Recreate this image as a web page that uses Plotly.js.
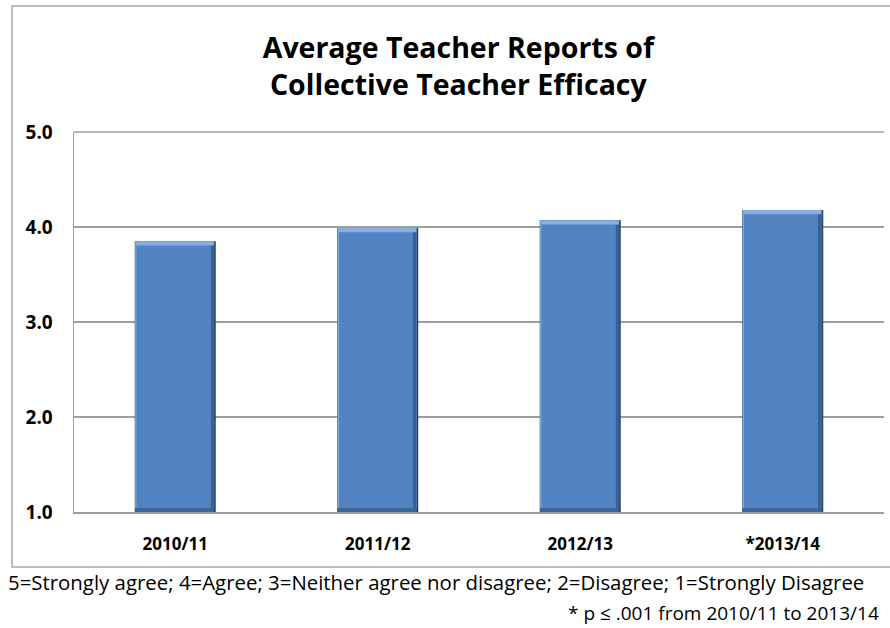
<!DOCTYPE html>
<html>
<head>
<meta charset="utf-8">
<script src="https://cdn.plot.ly/plotly-3.0.1.min.js"></script>
<style>
html,body{margin:0;padding:0;background:#fff;}
#chart{width:890px;height:628px;}
</style>
</head>
<body>
<div id="chart"></div>
<script>
const years = ["2010/11", "2011/12", "2012/13", "*2013/14"];
const efficacy = [3.85, 3.99, 4.07, 4.18];
const yTicks = [1, 2, 3, 4, 5];
const yTickLabels = ["1.0", "2.0", "3.0", "4.0", "5.0"];
const chartTitle = "Average Teacher Reports of<br>Collective Teacher Efficacy";
const scaleNote = "5=Strongly agree; 4=Agree; 3=Neither agree nor disagree; 2=Disagree; 1=Strongly Disagree";
const sigNote = "* p \u2264 .001 from 2010/11 to 2013/14";

const FONT = "'Open Sans', sans-serif";
const BASE = 1;
const heights = efficacy.map(v => v - BASE);
const RIM = 0.045;   // bevel depth in value units
const BOT = 0.04;

function layer(yv, base, width, offset, color, hover) {
  const t = {
    type: "bar", x: years, y: yv, base: base,
    width: width, offset: offset,
    marker: { color: color, line: { width: 0 } },
    showlegend: false
  };
  if (hover) {
    t.customdata = efficacy;
    t.hovertemplate = "%{x}: %{customdata}<extra></extra>";
  } else {
    t.hoverinfo = "skip";
  }
  return t;
}

// Bevelled bar look built from stacked overlays of the same data
const traces = [
  layer(heights, BASE, 0.4, -0.2, "#22406A", false),                                   // dark frame
  layer(heights.map(h => h - BOT), BASE + BOT, 0.39, -0.198, "#86AEE0", false),        // light rim (top/left)
  layer(heights.map(() => BOT), BASE, 0.39, -0.198, "#3C6598", false),                 // bottom shade
  layer(heights.map(h => h - RIM - BOT), BASE + BOT, 0.366, -0.192, "#5283C3", true),  // face
  layer(heights.map(h => h - RIM - BOT), BASE + BOT, 0.018, 0.174, "#3A6194", false)   // right shade
];

const layout = {
  width: 890,
  height: 628,
  margin: { l: 74, r: 6, t: 132, b: 116 },
  paper_bgcolor: "#ffffff",
  plot_bgcolor: "#ffffff",
  barmode: "overlay",
  title: {
    text: chartTitle,
    font: { family: FONT, size: 28.5, color: "#000000", weight: "bold" },
    x: 0.515, xanchor: "center",
    y: 1 - 58 / 628, yanchor: "middle",
    yref: "container"
  },
  xaxis: {
    type: "category",
    showgrid: false,
    showline: true,
    linecolor: "#9e9e9e",
    linewidth: 1.5,
    ticks: "",
    ticklabelstandoff: 16,
    tickfont: { family: FONT, size: 17, color: "#000000", weight: "bold" },
    fixedrange: true
  },
  yaxis: {
    range: [1, 5],
    tickvals: yTicks,
    ticktext: yTickLabels,
    showgrid: true,
    gridcolor: "#9e9e9e",
    gridwidth: 1.5,
    showline: true,
    linecolor: "#9e9e9e",
    linewidth: 1.5,
    zeroline: false,
    ticks: "",
    ticklabelstandoff: 16,
    tickfont: { family: FONT, size: 19, color: "#000000", weight: "bold" },
    fixedrange: true
  },
  shapes: [
    {
      type: "rect", xref: "paper", yref: "paper",
      x0: (12 - 74) / 810, x1: (892 - 74) / 810,
      y0: (512 - 567) / 380, y1: (512 - 6) / 380,
      line: { color: "#a6a6a6", width: 1.5 }, fillcolor: "rgba(0,0,0,0)", layer: "below"
    },
    {
      type: "line", xref: "paper", yref: "paper",
      x0: 0, x1: 1, y0: 1, y1: 1,
      line: { color: "#9e9e9e", width: 1.5 }
    }
  ],
  annotations: [
    {
      text: scaleNote, xref: "paper", yref: "paper",
      x: (6 - 74) / 810, xanchor: "left",
      y: (512 - 582) / 380, yanchor: "middle",
      showarrow: false,
      font: { family: FONT, size: 20.4, color: "#000000" }
    },
    {
      text: sigNote, xref: "paper", yref: "paper",
      x: (881 - 74) / 810, xanchor: "right",
      y: (512 - 613) / 380, yanchor: "middle",
      showarrow: false,
      font: { family: FONT, size: 19, color: "#000000" }
    }
  ]
};

Plotly.newPlot("chart", traces, layout, { displayModeBar: false, staticPlot: true });
</script>
</body>
</html>
